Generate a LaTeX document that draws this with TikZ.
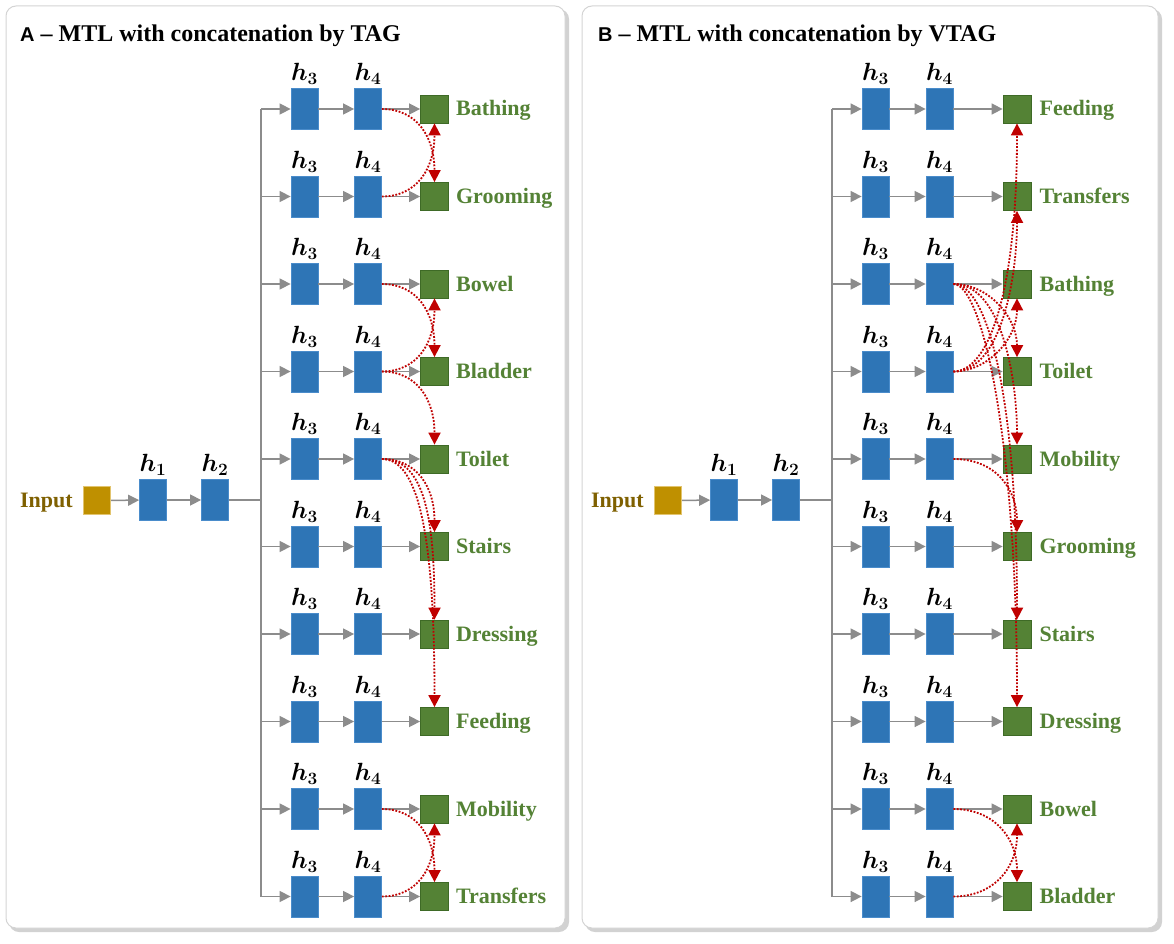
\documentclass[tikz,border=0pt]{standalone}
\usepackage{fontspec}
\setmainfont{Liberation Serif}
\newfontfamily\panelsans{Liberation Sans}
\usepackage{amsmath,amssymb}
\usepackage{xcolor}
\usepackage{tikz}
\usetikzlibrary{arrows.meta,positioning}

\definecolor{hidblue}{HTML}{2E75B6}
\definecolor{hidedge}{HTML}{4A8CCB}
\definecolor{taskgreen}{HTML}{548235}
\definecolor{taskedge}{HTML}{3E6A26}
\definecolor{ingold}{HTML}{BF9000}
\definecolor{inedge}{HTML}{E2C46E}
\definecolor{intext}{HTML}{7F6000}
\definecolor{sharered}{HTML}{C00000}
\definecolor{flowgray}{HTML}{8C8C8C}
\definecolor{panelline}{HTML}{D4D4D4}
\definecolor{panelshadow}{HTML}{D2D2D2}

\newcommand{\hname}[1]{$\boldsymbol{h_{#1}}$}

\begin{document}
\begin{tikzpicture}[x=1pt,y=-1pt,
  hid/.style={draw=hidedge,fill=hidblue,line width=0.8pt,
    minimum width=27pt,minimum height=41pt,inner sep=0pt},
  task/.style={draw=taskedge,fill=taskgreen,line width=0.8pt,
    minimum size=28pt,inner sep=0pt},
  inbox/.style={draw=inedge,fill=ingold,line width=0.8pt,
    minimum size=27.5pt,inner sep=0pt},
  hlabel/.style={font=\fontsize{23}{25}\selectfont,inner sep=0pt,
    text height=15pt,text depth=4pt},
  tasklabel/.style={font=\fontsize{22}{26}\selectfont\bfseries,
    text=taskgreen,inner sep=0pt,text height=17pt,text depth=3pt},
  title/.style={font=\fontsize{24}{28}\selectfont\bfseries,inner sep=0pt},
  flow/.style={draw=flowgray,line width=1.5pt,
    -{Triangle[length=11pt,width=11pt]}},
  bus/.style={draw=flowgray,line width=1.5pt},
  share/.style={draw=sharered,line width=1.8pt,
    dash pattern=on 1.8pt off 1.6pt,-{Triangle[length=12pt,width=12pt]}},
  panel/.style={draw=panelline,fill=white,line width=1pt,rounded corners=10pt}]

\useasboundingbox (0,0) rectangle (1174,944);

% the two panels
\fill[panelshadow,rounded corners=10pt] (9,9) rectangle (569,932);
\draw[panel] (6,6) rectangle (565,928);
\fill[panelshadow,rounded corners=10pt] (585,9) rectangle (1162,932);
\draw[panel] (582,6) rectangle (1158,928);

% ---------- A: concatenation by TAG
\node[title,anchor=base west] (atitle) at (20,42)
  {{\panelsans\fontsize{20}{22}\selectfont A} – MTL with concatenation by TAG};

\node[inbox] (ain) at (97,500.5) {};
\node[tasklabel,text=intext,left=10pt of ain] (aintext) {Input};
\node[hid] (ah1) at (153,500) {};
\node[hid] (ah2) at (215,500) {};
\node[hlabel,above=3pt of ah1] (ah1l) {\hname{1}};
\node[hlabel,above=3pt of ah2] (ah2l) {\hname{2}};
\coordinate (ajoin) at (261,500);
\draw[flow] (ain) -- (ah1);
\draw[flow] (ah1) -- (ah2);
\draw[bus] (ah2) -- (ajoin);

\foreach \lab [count=\i] in {Bathing,Grooming,Bowel,Bladder,Toilet,
    Stairs,Dressing,Feeding,Mobility,Transfers} {
  \pgfmathsetmacro{\yy}{109+(\i-1)*87.5}
  \coordinate (abus-\i) at (261,\yy);
  \node[hid] (a3-\i) at (304.5,\yy) {};
  \node[hid] (a4-\i) at (368,\yy) {};
  \node[task] (at-\i) at (434.5,\yy) {};
  \node[hlabel,above=3pt of a3-\i] (a3l-\i) {\hname{3}};
  \node[hlabel,above=3pt of a4-\i] (a4l-\i) {\hname{4}};
  \node[tasklabel,right=7pt of at-\i] (atl-\i) {\lab};
  \draw[flow] (abus-\i) -- (a3-\i);
  \draw[flow] (a3-\i) -- (a4-\i);
  \draw[flow] (a4-\i) -- (at-\i);
}
\draw[bus] (abus-1) -- (abus-10);

% shared task groups
\draw[share] (a4-1.east) .. controls +(35,0) and +(0,-45) .. (at-2.north);
\draw[share] (a4-2.east) .. controls +(35,0) and +(0,45) .. (at-1.south);
\draw[share] (a4-3.east) .. controls +(35,0) and +(0,-45) .. (at-4.north);
\draw[share] (a4-4.east) .. controls +(35,0) and +(0,45) .. (at-3.south);
\draw[share] (a4-4.east) .. controls +(35,0) and +(0,-45) .. (at-5.north);
\draw[share] (a4-5.east) .. controls +(35,0) and +(0,-45) .. (at-6.north);
\draw[share] (a4-5.east) .. controls +(40,0) and +(0,-110) .. (at-7.north);
\draw[share] (a4-5.east) .. controls +(36,0) and +(0,-175) .. (at-8.north);
\draw[share] (a4-9.east) .. controls +(35,0) and +(0,-45) .. (at-10.north);
\draw[share] (a4-10.east) .. controls +(35,0) and +(0,45) .. (at-9.south);

% ---------- B: concatenation by VTAG
\node[title,anchor=base west] (btitle) at (598,42)
  {{\panelsans\fontsize{20}{22}\selectfont B} – MTL with concatenation by VTAG};

\node[inbox] (bin) at (668,500.5) {};
\node[tasklabel,text=intext,left=10pt of bin] (bintext) {Input};
\node[hid] (bh1) at (724,500) {};
\node[hid] (bh2) at (786,500) {};
\node[hlabel,above=3pt of bh1] (bh1l) {\hname{1}};
\node[hlabel,above=3pt of bh2] (bh2l) {\hname{2}};
\coordinate (bjoin) at (832,500);
\draw[flow] (bin) -- (bh1);
\draw[flow] (bh1) -- (bh2);
\draw[bus] (bh2) -- (bjoin);

\foreach \lab [count=\i] in {Feeding,Transfers,Bathing,Toilet,Mobility,
    Grooming,Stairs,Dressing,Bowel,Bladder} {
  \pgfmathsetmacro{\yy}{109+(\i-1)*87.5}
  \coordinate (bbus-\i) at (832,\yy);
  \node[hid] (b3-\i) at (875.5,\yy) {};
  \node[hid] (b4-\i) at (939.5,\yy) {};
  \node[task] (bt-\i) at (1017,\yy) {};
  \node[hlabel,above=3pt of b3-\i] (b3l-\i) {\hname{3}};
  \node[hlabel,above=3pt of b4-\i] (b4l-\i) {\hname{4}};
  \node[tasklabel,right=8pt of bt-\i] (btl-\i) {\lab};
  \draw[flow] (bbus-\i) -- (b3-\i);
  \draw[flow] (b3-\i) -- (b4-\i);
  \draw[flow] (b4-\i) -- (bt-\i);
}
\draw[bus] (bbus-1) -- (bbus-10);

% shared task groups
\draw[share] (b4-3.east) .. controls +(35,0) and +(0,-40) .. (bt-4.north);
\draw[share] (b4-3.east) .. controls +(50,0) and +(0,-60) .. (bt-5.north);
\draw[share] (b4-3.east) .. controls +(35,0) and +(0,-220) .. (bt-7.north);
\draw[share] (b4-3.east) .. controls +(30,0) and +(0,-260) .. (bt-8.north);
\draw[share] (b4-4.east) .. controls +(35,0) and +(0,40) .. (bt-3.south);
\draw[share] (b4-4.east) .. controls +(50,0) and +(0,60) .. (bt-2.south);
\draw[share] (b4-4.east) .. controls +(35,0) and +(0,170) .. (bt-1.south);
\draw[share] (b4-5.east) .. controls +(45,0) and +(0,-40) .. (bt-6.north);
\draw[share] (b4-9.east) .. controls +(40,0) and +(0,-45) .. (bt-10.north);
\draw[share] (b4-10.east) .. controls +(40,0) and +(0,45) .. (bt-9.south);
\end{tikzpicture}
\end{document}
